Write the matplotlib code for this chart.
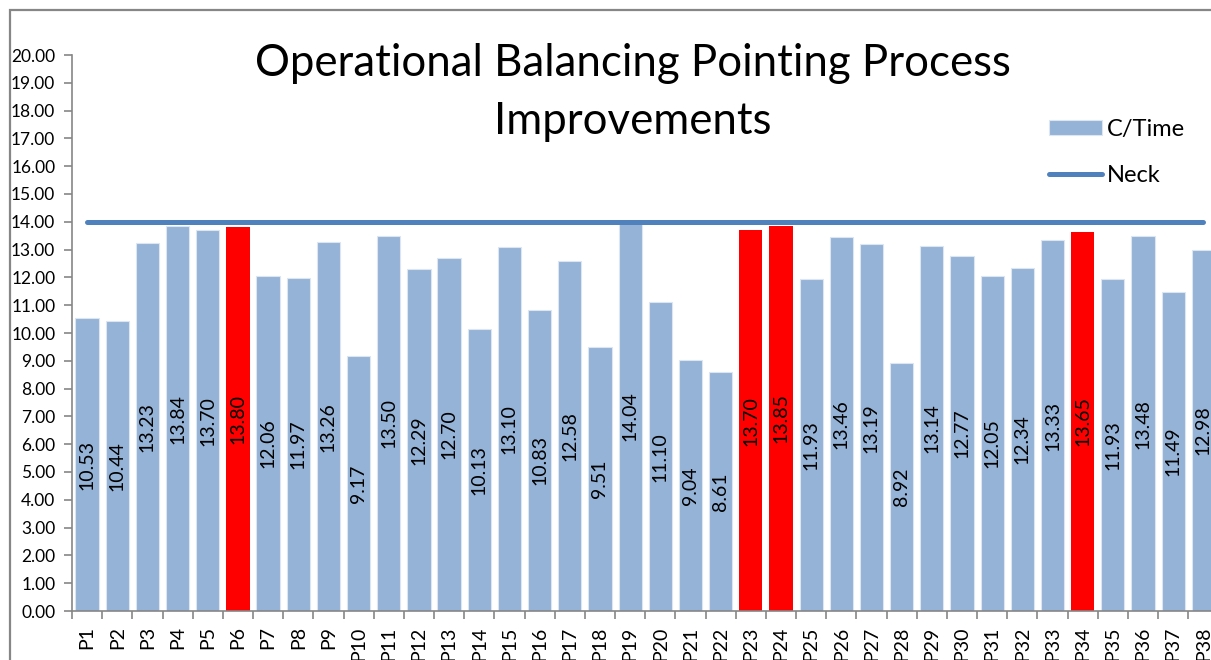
import matplotlib
matplotlib.use("Agg")
import matplotlib.pyplot as plt
from matplotlib.patches import Rectangle

categories = [f"P{i}" for i in range(1, 39)]
ctime = [10.53, 10.44, 13.23, 13.84, 13.70, 13.80, 12.06, 11.97, 13.26, 9.17,
         13.50, 12.29, 12.70, 10.13, 13.10, 10.83, 12.58, 9.51, 14.04, 11.10,
         9.04, 8.61, 13.70, 13.85, 11.93, 13.46, 13.19, 8.92, 13.14, 12.77,
         12.05, 12.34, 13.33, 13.65, 11.93, 13.48, 11.49, 12.98]
neck = [14.00] * 38
highlight = ["P6", "P23", "P24", "P34"]
yticks = [i * 1.0 for i in range(0, 21)]

plt.rcParams['font.family'] = ['Lato', 'DejaVu Sans']

W, H = 1211, 660
fig = plt.figure(figsize=(W / 100, H / 100), dpi=100)

# axes extends beyond right edge like the reference
left, right, bottom, top = 72, 1218.4, 611, 55
ax = fig.add_axes([left / W, 1 - bottom / H, (right - left) / W, (bottom - top) / H])

x = list(range(len(categories)))
blue = "#95B3D7"
red = "#FF0000"
colors = [red if c in highlight else blue for c in categories]
edges = ["none" if c in highlight else "#DCE6F2" for c in categories]
bars = ax.bar(x, ctime, width=0.77, color=colors, edgecolor=edges, linewidth=0.8,
              zorder=2, label="C/Time")
line, = ax.plot(x, neck, color="#4F81BD", linewidth=3.6, solid_capstyle="round",
                zorder=3, label="Neck")

for xi, v in zip(x, ctime):
    ax.text(xi, v / 2, f"{v:.2f}", rotation=90, ha="center", va="center",
            fontsize=14, color="black", zorder=4)

ax.set_xlim(-0.5, len(categories) - 0.5)
ax.set_ylim(0, 20)
ax.set_yticks(yticks)
ax.set_yticklabels([f"{t:.2f}" for t in yticks], fontsize=12.5)
ax.set_xticks([i - 0.5 for i in range(len(categories) + 1)], minor=False)
ax.set_xticklabels([])
ax.set_xticks(x, minor=True)
ax.set_xticklabels(categories, minor=True, rotation=90, fontsize=14)
ax.tick_params(axis="x", which="minor", length=0, pad=11)
ax.tick_params(axis="x", which="major", length=6, color="#868686", width=1.2, direction="out")
ax.tick_params(axis="y", length=6, color="#868686", width=1.2, direction="out", pad=6)
for s in ["top", "right"]:
    ax.spines[s].set_visible(False)
for s in ["left", "bottom"]:
    ax.spines[s].set_color("#868686")
    ax.spines[s].set_linewidth(1.2)

fig.text(633 / W, 1 - 64 / H, "Operational Balancing Pointing Process", ha="center",
         va="center", fontsize=31.5)
fig.text(633 / W, 1 - 121 / H, "Improvements", ha="center", va="center", fontsize=31.5)

leg = fig.legend(handles=[bars, line], labels=["C/Time", "Neck"], loc="upper left",
                 bbox_to_anchor=(1049 / W, 1 - 119 / H), frameon=False, fontsize=17,
                 handlelength=2.25, handleheight=0.6, labelspacing=1.05, handletextpad=0.2,
                 borderaxespad=0, borderpad=0)

# outer chart border
fig.add_artist(Rectangle((9.5 / W, -0.1), 1.2, 1 - 9.5 / H + 0.1, transform=fig.transFigure,
                         fill=False, edgecolor="#868686", linewidth=1.6))

fig.savefig("out.png", dpi=100)
